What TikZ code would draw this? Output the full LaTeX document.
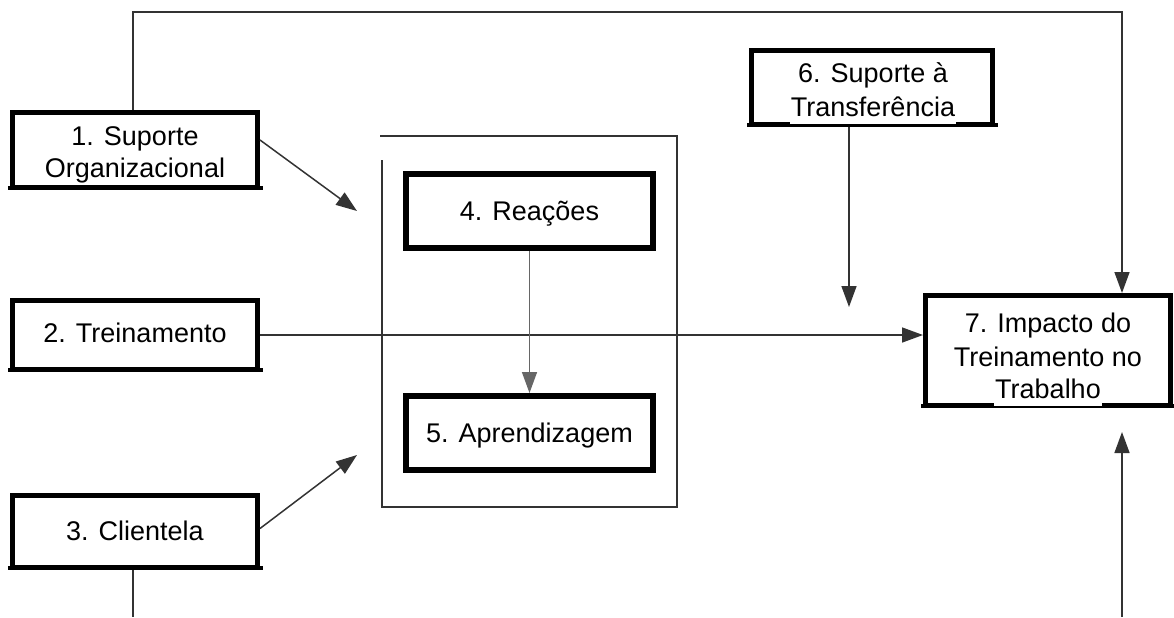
\documentclass[tikz,border=0pt]{standalone}
\usepackage{fontspec}
\setmainfont{Liberation Sans}
\usetikzlibrary{arrows.meta}
\begin{document}
\begin{tikzpicture}[x=0.5pt,y=-0.5pt,
  box/.style={draw=black, line width=2.5pt, fill=white, inner sep=0pt},
  inbox/.style={box, line width=3pt},
  lbl/.style={anchor=base, inner sep=0pt, font=\fontsize{13.5}{16}\selectfont},
  lastline/.style={lbl, fill=white, inner xsep=0.5pt, inner ysep=1pt, text depth=2.8pt},
  conn/.style={draw=black!80, line width=0.75pt},
  arr/.style={conn, -{Triangle[length=10.5pt,width=7.5pt]}}]
\useasboundingbox (0,0) rectangle (1174,617);

% grouping frame around reactions and learning
\draw[conn] (382,160) -- (382,507) -- (677,507) -- (677,136) -- (380,136);

% boxes
\node[box, minimum width=122.5pt, minimum height=37.5pt] (b1) at (135,150) {};
\node[box, minimum width=122.5pt, minimum height=34.5pt] (b2) at (135,335) {};
\node[box, minimum width=122.5pt, minimum height=36pt] (b3) at (135,531.5) {};
\node[inbox, minimum width=123.5pt, minimum height=37pt] (b4) at (529.5,211) {};
\node[inbox, minimum width=123.5pt, minimum height=37pt] (b5) at (529.5,433) {};
\node[box, minimum width=120.5pt, minimum height=37pt] (b6) at (872,87.5) {};
\node[box, minimum width=122.5pt, minimum height=55pt] (b7) at (1048,350.5) {};

% heavier lower edge of the outer boxes
\foreach \b in {b1,b2,b3,b6,b7}
  \fill[black] ([xshift=-1.25pt]\b.south west) rectangle ([xshift=1.25pt,yshift=2.2pt]\b.south east);

% labels
\node[lbl] (b1a) at (135,145) {1. Suporte};
\node[lastline] (b1b) at (135,177) {Organizacional};
\node[lbl] (b2a) at (135,342) {2. Treinamento};
\node[lbl] (b3a) at (135,540) {3. Clientela};
\node[lbl] (b4a) at (529.5,220) {4. Reações};
\node[lbl] (b5a) at (529.5,442) {5. Aprendizagem};
\node[lbl] (b6a) at (873,82) {6. Suporte à};
\node[lastline] (b6b) at (873,116) {Transferência};
\node[lbl] (b7a) at (1048,332) {7. Impacto do};
\node[lbl] (b7b) at (1048,366) {Treinamento no};
\node[lastline] (b7c) at (1048,398) {Trabalho};

% free ends of the connectors
\coordinate (rt) at (1122,12);
\coordinate (lt) at (133,12);
\coordinate (bb) at (1122,617);
\coordinate (bbtip) at (1122,432);
\coordinate (s6) at (849,307);
\coordinate (a1) at (357,211);
\coordinate (a3) at (357,455);
\coordinate (bl) at (133,617);

% connectors
\draw[arr] (lt |- b1.north) -- (lt) -- (rt) -- (rt |- b7.north);
\draw[arr] (b2.east) -- (b2.east -| b7.west);
\draw[arr] (s6 |- b6.south) -- (s6);
\draw[arr] ([yshift=5pt]b1.east) -- (a1);
\draw[arr] ([yshift=1.5pt]b3.east) -- (a3);
\draw[arr, draw=black!60] (b4) -- (b5);
\draw[arr] (bb) -- (bbtip);
\draw[conn] (bl |- b3.south) -- (bl);
\end{tikzpicture}
\end{document}
